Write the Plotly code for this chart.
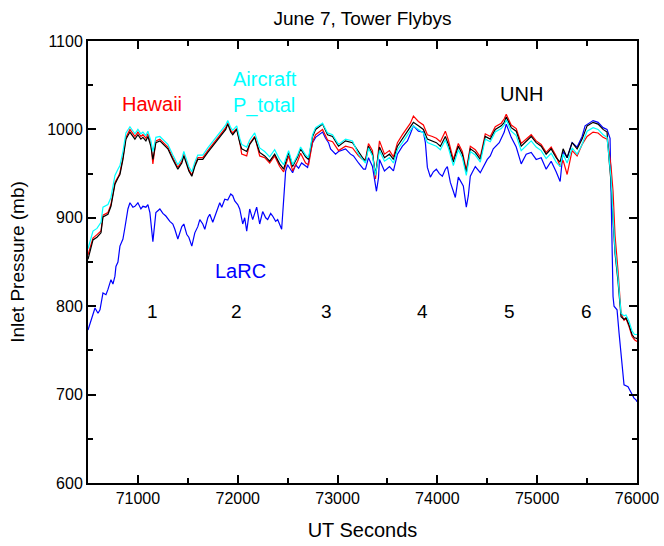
import plotly.graph_objects as go

# ---- data (UT seconds, inlet pressure in mb) ----
t_main = [
    70500, 70550, 70590, 70630, 70650, 70700, 70730, 70770, 70800, 70820,
    70850, 70880, 70920, 70950, 70970, 71000, 71030, 71050, 71080, 71100,
    71130, 71150, 71180, 71220, 71260, 71300, 71350, 71400, 71440, 71460,
    71490, 71510, 71540, 71570, 71600, 71650, 71700, 71750, 71800, 71840,
    71880, 71900, 71930, 71950, 71990, 72020, 72040, 72090, 72120, 72170,
    72220, 72270, 72320, 72370, 72420, 72460, 72510, 72550, 72600, 72630,
    72680, 72710, 72750, 72780, 72850, 72900, 72950, 73010, 73080, 73150,
    73210, 73250, 73280, 73310, 73350, 73380, 73420, 73470, 73520, 73560,
    73600, 73650, 73700, 73730, 73760, 73810, 73860, 73900, 73950, 73990,
    74030, 74080, 74110, 74160, 74210, 74250, 74290, 74330, 74380, 74430,
    74480, 74530, 74580, 74640, 74670, 74690, 74740, 74790, 74840, 74890,
    74940, 74990, 75040, 75090, 75140, 75190, 75230, 75260, 75300, 75350,
    75400, 75450, 75500, 75560, 75610, 75660, 75700, 75720, 75740, 75760,
    75780, 75810, 75840, 75870, 75890, 75920, 75950, 75975, 75990, 76000,
]

p_unh = [
    853, 875, 878, 883, 901, 904, 913, 938, 945, 949,
    966, 989, 997, 992, 989, 994, 989, 991, 987, 992,
    981, 966, 985, 987, 983, 978, 966, 955, 962, 970,
    960, 953, 947, 958, 966, 966, 974, 981, 989, 994,
    1000, 1006, 997, 994, 1000, 985, 978, 975, 983, 991,
    974, 970, 964, 972, 961, 955, 974, 958, 969, 978,
    969, 966, 992, 1000, 1006, 994, 992, 981, 987, 985,
    974, 968, 964, 981, 972, 949, 980, 968, 972, 966,
    981, 989, 997, 1002, 1008, 1004, 1000, 989, 987, 985,
    981, 992, 983, 963, 981, 972, 951, 978, 974, 966,
    992, 989, 1000, 1004, 1008, 1014, 1002, 998, 981, 987,
    992, 985, 981, 972, 978, 968, 963, 978, 968, 985,
    978, 989, 1004, 1008, 1006, 1000, 997, 966, 940, 898,
    860, 828, 788, 785, 787, 779, 768, 764, 764, 763,
]

p_hawaii = [
    858, 877, 881, 885, 903, 906, 915, 940, 946, 951,
    968, 991, 1000, 995, 992, 997, 992, 994, 990, 995,
    984, 961, 987, 989, 985, 980, 968, 957, 964, 972,
    962, 955, 948, 960, 968, 968, 976, 983, 991, 996,
    1002, 1008, 999, 996, 1001, 986, 972, 970, 984, 992,
    970, 968, 962, 970, 958, 952, 970, 953, 964, 973,
    962, 960, 986, 994, 1000, 988, 986, 976, 981, 979,
    970, 966, 966, 984, 976, 944, 987, 972, 976, 969,
    985, 994, 1002, 1007, 1015, 1009, 1005, 994, 992, 990,
    986, 998, 988, 966, 984, 975, 954, 981, 977, 969,
    995, 992, 1003, 1007, 1012, 1017, 1005, 1001, 984, 989,
    994, 987, 983, 974, 980, 970, 958, 965, 949, 976,
    970, 983, 992, 997, 996, 991, 989, 975, 958, 930,
    880, 840, 792, 784, 786, 777, 766, 762, 761, 760,
]

p_aircraft = [
    865, 885, 888, 895, 912, 915, 923, 948, 955, 959,
    975, 996, 1003, 998, 995, 1000, 995, 997, 993, 998,
    987, 975, 991, 992, 988, 983, 971, 960, 967, 975,
    965, 958, 952, 963, 971, 971, 979, 986, 994, 999,
    1005, 1010, 1002, 999, 1004, 990, 983, 980, 988, 996,
    979, 975, 969, 977, 966, 960, 976, 960, 971, 980,
    971, 968, 994, 1002, 1007, 996, 994, 983, 989, 987,
    972, 966, 962, 979, 970, 948, 976, 964, 968, 962,
    977, 985, 993, 998, 1004, 1000, 996, 985, 983, 981,
    977, 988, 979, 959, 977, 968, 948, 975, 971, 963,
    989, 986, 997, 1001, 1005, 1011, 998, 993, 976, 982,
    987, 980, 976, 967, 973, 963, 958, 972, 962, 979,
    972, 983, 998, 1002, 1000, 994, 991, 968, 945, 903,
    864, 832, 792, 789, 790, 783, 772, 768, 768, 768,
]

t_larc = [
    70500, 70540, 70570, 70600, 70620, 70650, 70680, 70700, 70730, 70750,
    70770, 70780, 70800, 70820, 70850, 70870, 70900, 70920, 70950, 70970,
    71000, 71030, 71050, 71080, 71100, 71120, 71150, 71180, 71220, 71250,
    71280, 71320, 71350, 71370, 71400, 71440, 71460, 71490, 71510, 71540,
    71570, 71600, 71620, 71650, 71670, 71700, 71720, 71750, 71770, 71800,
    71820, 71840, 71870, 71900, 71930, 71950, 71970, 72000, 72020, 72050,
    72070, 72090, 72120, 72150, 72170, 72190, 72220, 72250, 72280, 72300,
    72330, 72350, 72380, 72400, 72440, 72450, 72460, 72470, 72480, 72500,
    72530, 72550, 72580, 72610, 72640, 72680, 72700, 72730, 72750, 72780,
    72810, 72850, 72880, 72910, 72930, 72980, 73010, 73080, 73130, 73160,
    73210, 73260, 73280, 73310, 73350, 73370, 73390, 73410, 73420, 73470,
    73520, 73560, 73600, 73650, 73700, 73730, 73760, 73810, 73860, 73880,
    73900, 73930, 73960, 73990, 74020, 74050, 74080, 74100, 74130, 74160,
    74180, 74210, 74260, 74290, 74310, 74330, 74380, 74430, 74470, 74500,
    74530, 74560, 74620, 74670, 74690, 74740, 74790, 74840, 74890, 74940,
    74990, 75040, 75090, 75140, 75190, 75210, 75230, 75260, 75300, 75350,
    75400, 75450, 75480, 75560, 75610, 75660, 75700, 75730, 75740, 75750,
    75760, 75770, 75800, 75820, 75840, 75860, 75870, 75910, 75940, 75970,
    75990, 76000,
]

p_larc = [
    773, 788, 798, 792, 796, 815, 813, 819, 830, 825,
    834, 845, 850, 868, 876, 889, 910, 917, 912, 913,
    917, 910, 913, 912, 915, 906, 873, 906, 910, 905,
    902, 896, 893, 887, 876, 890, 893, 881, 878, 868,
    883, 890, 898, 893, 887, 900, 904, 895, 902, 910,
    917, 912, 921, 920, 927, 925, 919, 915, 910, 893,
    900, 885, 910, 898, 906, 912, 893, 907, 900, 898,
    905, 902, 896, 898, 887, 905, 929, 940, 953, 960,
    955, 951, 960, 956, 962, 958, 957, 975, 985, 991,
    994, 997, 990, 985, 978, 972, 975, 978, 972, 970,
    962, 955, 955, 968, 958, 945, 930, 945, 966, 953,
    958, 953, 972, 981, 987, 995, 1004, 998, 997, 985,
    957, 946, 952, 955, 950, 947, 955, 958, 940, 930,
    923, 946, 936, 912, 925, 947, 958, 951, 960, 966,
    970, 978, 985, 997, 1006, 991, 980, 961, 972, 974,
    966, 968, 955, 964, 952, 946, 941, 975, 968, 985,
    980, 992, 1004, 1010, 1008, 1002, 1000, 990, 930, 830,
    811, 800, 796, 770, 743, 720, 711, 709, 702, 696,
    694, 692,
]

series_labels = ["Hawaii", "Aircraft<br>P_total", "UNH", "LaRC"]
flyby_labels = ["1", "2", "3", "4", "5", "6"]
flyby_times = [71150, 71988, 72892, 73850, 74724, 75497]
flyby_level = 794

x_ticks = [71000, 72000, 73000, 74000, 75000, 76000]
y_ticks = [600, 700, 800, 900, 1000, 1100]

FONT = "Liberation Sans, Arial, sans-serif"

fig = go.Figure()
fig.add_trace(go.Scatter(x=t_larc, y=p_larc, mode="lines",
                         line=dict(color="#0000ff", width=1.2), name="LaRC"))
fig.add_trace(go.Scatter(x=t_main, y=p_hawaii, mode="lines",
                         line=dict(color="#ff0000", width=1.2), name="Hawaii"))
fig.add_trace(go.Scatter(x=t_main, y=p_unh, mode="lines",
                         line=dict(color="#000000", width=1.2), name="UNH"))
fig.add_trace(go.Scatter(x=t_main, y=p_aircraft, mode="lines",
                         line=dict(color="#00ffff", width=1.2), name="Aircraft P_total"))

ann = [
    dict(x=71140, y=1029, text=series_labels[0], font=dict(color="#ff0000", size=20),
         xanchor="center", yanchor="middle"),
    dict(x=71935, y=1042, text=series_labels[1], font=dict(color="#00ffff", size=20),
         xanchor="left", yanchor="middle", align="left"),
    dict(x=74844, y=1040, text=series_labels[2], font=dict(color="#000000", size=20),
         xanchor="center", yanchor="middle"),
    dict(x=72023, y=840, text=series_labels[3], font=dict(color="#0000ff", size=20),
         xanchor="center", yanchor="middle"),
]
for lab, tx in zip(flyby_labels, flyby_times):
    ann.append(dict(x=tx, y=flyby_level, text=lab, font=dict(color="#000000", size=19),
                    xanchor="center", yanchor="middle"))
for a in ann:
    a.update(xref="x", yref="y", showarrow=False)

axis_common = dict(
    showline=True, linecolor="black", linewidth=2, mirror="ticks",
    ticks="inside", ticklen=8, tickwidth=1.5, tickcolor="black",
    showgrid=False, zeroline=False, ticklabeloverflow="allow",
    automargin=False,
    tickfont=dict(size=16, color="black", family=FONT),
)

fig.update_layout(
    width=664, height=546,
    margin=dict(l=88, r=27, t=41, b=63, autoexpand=False),
    paper_bgcolor="white", plot_bgcolor="white",
    showlegend=False,
    font=dict(family=FONT, color="black"),
    title=dict(text="June 7, Tower Flybys", x=0.5, xref="paper",
               y=1 - 18 / 546, yref="container", yanchor="middle",
               font=dict(size=19, color="black", family=FONT)),
    annotations=ann,
    xaxis=dict(range=[70500, 76000], tickvals=x_ticks,
               ticktext=[str(v) for v in x_ticks],
               minor=dict(dtick=500, tick0=70500, ticklen=5, ticks="inside",
                          tickcolor="black", tickwidth=1.5),
               title=dict(text="UT Seconds", font=dict(size=20, family=FONT), standoff=17),
               **axis_common),
    yaxis=dict(range=[600, 1100], tickvals=y_ticks,
               ticktext=[str(v) for v in y_ticks],
               minor=dict(dtick=50, tick0=600, ticklen=5, ticks="inside",
                          tickcolor="black", tickwidth=1.5),
               title=dict(text="Inlet Pressure (mb)", font=dict(size=19, family=FONT), standoff=18),
               **axis_common),
)

fig.write_html("out.html")
